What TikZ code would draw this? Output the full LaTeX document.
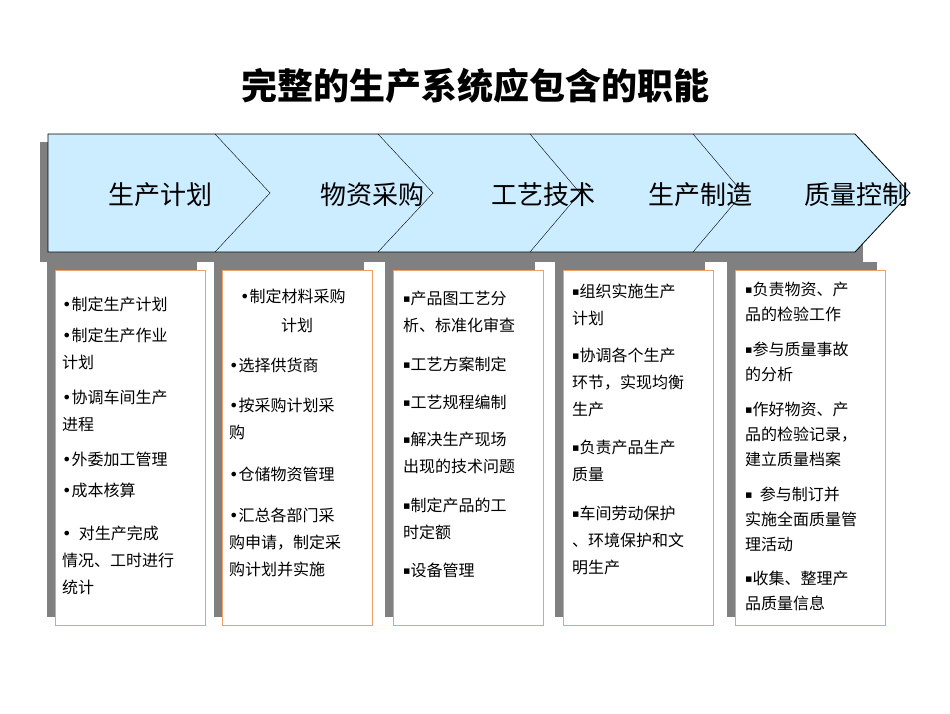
\documentclass[tikz,border=0pt]{standalone}
\usepackage{fontspec}
\setmainfont{Noto Sans CJK SC}
\newfontfamily\symfont{DejaVu Sans}
\usetikzlibrary{positioning}
\definecolor{bannerblue}{RGB}{204,236,255}
\definecolor{boxorange}{RGB}{240,160,100}
\definecolor{shadowgray}{RGB}{128,128,128}
\newcommand{\dotb}{{\symfont •}}
\newcommand{\sqb}{\raisebox{2pt}{\symfont\fontsize{11}{11}\selectfont ▪}}
\tikzset{
  item/.style={anchor=north west,inner sep=0pt,align=left,
    font=\fontsize{16}{27}\selectfont},
  stage/.style={font=\fontsize{26}{28}\selectfont},
  infobox/.style={draw=boxorange,fill=white,line width=0.8pt},
  shade/.style={fill=shadowgray,draw=none}
}
\begin{document}
\begin{tikzpicture}[x=1pt,y=-1pt]
  \useasboundingbox (0,0) rectangle (950,713);
  \node (title) at (475,86) {\fontsize{36}{38}\selectfont\bfseries 完整的生产系统应包含的职能};

  % banner
  \fill[shade] (40,142) rectangle (863,262);
  \draw[fill=bannerblue,line width=0.8pt] (48,134) -- (855,134) -- (910,193) -- (855,252) -- (48,252) -- cycle;
  \foreach \xx/\tx in {215/270,378/433,530/580,693/743}
    \draw (\xx,134) -- (\tx,193) -- (\xx,252);
  \node[stage] (s1) at (160,195) {生产计划};
  \node[stage] (s2) at (372,195) {物资采购};
  \node[stage] (s3) at (543,195) {工艺技术};
  \node[stage] (s4) at (700,195) {生产制造};
  \node[stage] (s5) at (856,195) {质量控制};

  % boxes
  \foreach \bx in {55,222,393,563,735} {
    \fill[shade] (\bx-8,262) rectangle (\bx+142,617);
    \draw[infobox] (\bx,270) rectangle (\bx+150,625);
  }

  % box 1
  \node[item] (a1) at (62,297) {\dotb 制定生产计划};
  \node[item] (a2) at (62,328) {\dotb 制定生产作业\\计划};
  \node[item] (a3) at (62,390) {\dotb 协调车间生产\\进程};
  \node[item] (a4) at (62,452) {\dotb 外委加工管理};
  \node[item] (a5) at (62,483) {\dotb 成本核算};
  \node[item] (a6) at (62,526) {\dotb\ \ 对生产完成\\情况、工时进行\\统计};

  % box 2
  \node[item] (b1) at (240,289) {\dotb 制定材料采购};
  \node[item,anchor=north] (b1b) at (297,318) {计划};
  \node[item] (b2) at (229,358) {\dotb 选择供货商};
  \node[item] (b3) at (229,398) {\dotb 按采购计划采\\购};
  \node[item] (b4) at (229,467) {\dotb 仓储物资管理};
  \node[item] (b5) at (229,508) {\dotb 汇总各部门采\\购申请，制定采\\购计划并实施};

  % box 3
  \node[item] (c1) at (403,291) {\sqb 产品图工艺分\\析、标准化审查};
  \node[item] (c2) at (403,357) {\sqb 工艺方案制定};
  \node[item] (c3) at (403,395) {\sqb 工艺规程编制};
  \node[item] (c4) at (403,432) {\sqb 解决生产现场\\出现的技术问题};
  \node[item] (c5) at (403,498) {\sqb 制定产品的工\\时定额};
  \node[item] (c6) at (403,563) {\sqb 设备管理};

  % box 4
  \node[item] (d1) at (572,284) {\sqb 组织实施生产\\计划};
  \node[item] (d2) at (572,348) {\sqb 协调各个生产\\环节，实现均衡\\生产};
  \node[item] (d3) at (572,440) {\sqb 负责产品生产\\质量};
  \node[item] (d4) at (572,506) {\sqb 车间劳动保护\\、环境保护和文\\明生产};

  % box 5
  \node[item,font=\fontsize{16}{25}\selectfont] (e1) at (745,282) {\sqb 负责物资、产\\品的检验工作};
  \node[item,font=\fontsize{16}{25}\selectfont] (e2) at (745,342) {\sqb 参与质量事故\\的分析};
  \node[item,font=\fontsize{16}{25}\selectfont] (e3) at (745,402) {\sqb 作好物资、产\\品的检验记录，\\建立质量档案};
  \node[item,font=\fontsize{16}{25}\selectfont] (e4) at (745,487) {\sqb\ \ 参与制订并\\实施全面质量管\\理活动};
  \node[item,font=\fontsize{16}{25}\selectfont] (e5) at (745,571) {\sqb 收集、整理产\\品质量信息};
\end{tikzpicture}
\end{document}
